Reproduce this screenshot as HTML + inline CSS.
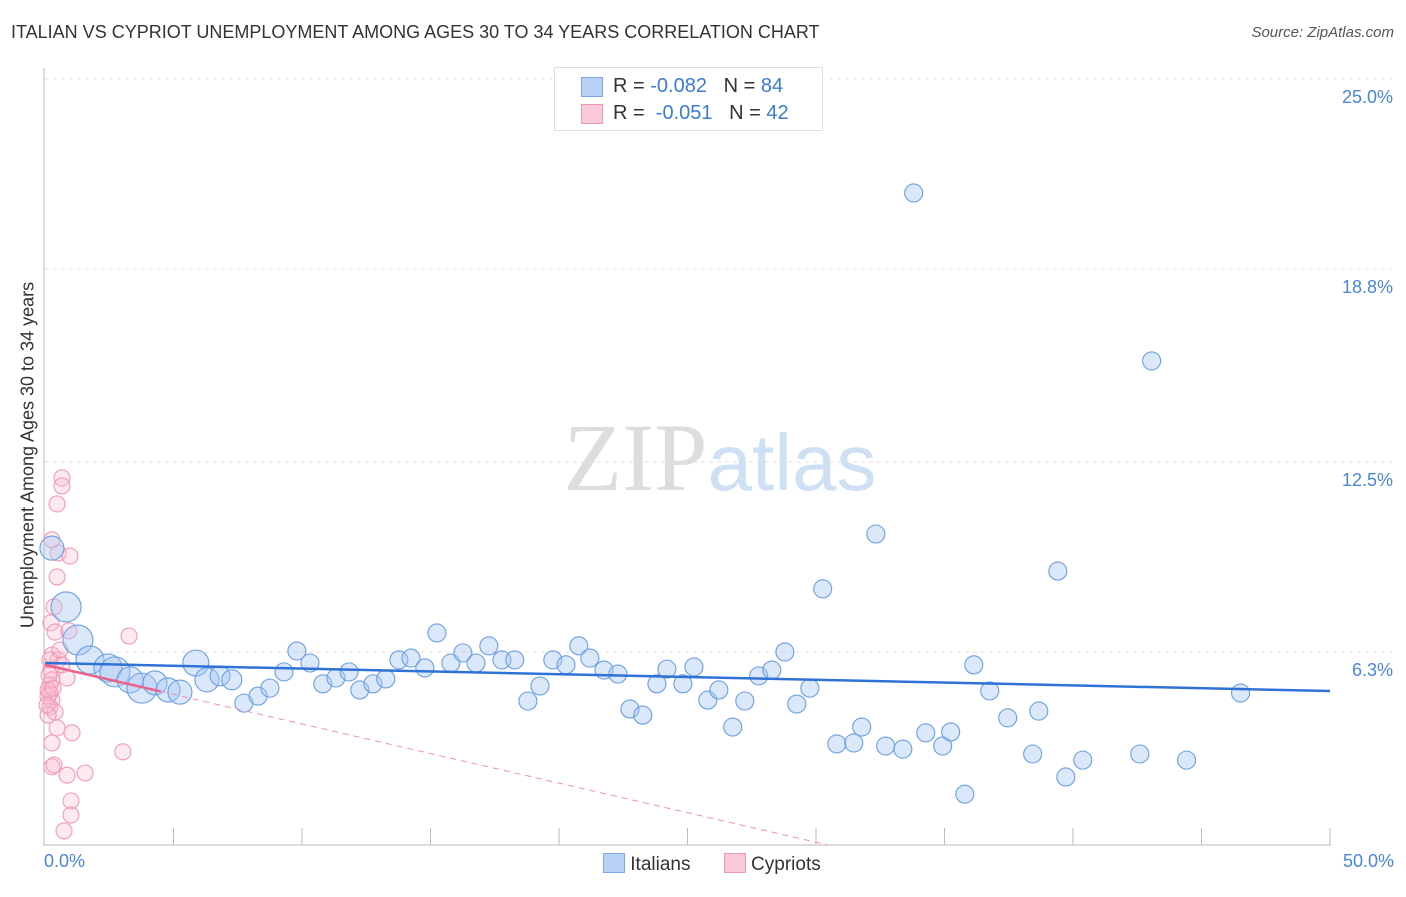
<!DOCTYPE html>
<html><head><meta charset="utf-8"><style>
body{margin:0;background:#fff;font-family:"Liberation Sans",sans-serif}
svg text{font-family:"Liberation Sans",sans-serif}
</style></head><body>
<svg id="c" width="1406" height="892"></svg>
<script>
const blueX=[.27,.82,1.28,1.75,2.45,2.72,3.31,3.77,4.28,4.79,5.25,5.87,6.30,6.81,7.27,7.74,8.29,8.75,9.30,9.80,10.31,10.81,11.32,11.83,12.25,12.76,13.26,13.77,14.24,14.78,15.25,15.79,16.26,16.77,17.27,17.78,18.28,18.79,19.26,19.76,20.27,20.77,21.20,21.75,22.29,22.76,23.26,23.81,24.20,24.82,25.25,25.79,26.22,26.76,27.23,27.77,28.28,28.79,29.25,29.76,30.26,30.81,31.47,31.78,32.33,32.71,33.38,33.80,34.27,34.93,35.24,35.79,36.14,36.76,37.46,38.43,38.67,39.41,39.72,40.38,42.60,43.06,44.42,46.52];
const blueY=[9.69,7.77,6.69,6.04,5.78,5.65,5.39,5.12,5.29,5.06,4.99,5.94,5.39,5.52,5.39,4.63,4.86,5.12,5.65,6.33,5.94,5.26,5.45,5.65,5.06,5.26,5.42,6.04,6.10,5.78,6.92,5.94,6.27,5.94,6.50,6.04,6.04,4.70,5.19,6.04,5.88,6.50,6.10,5.71,5.58,4.44,4.24,5.26,5.74,5.26,5.81,4.73,5.06,3.85,4.70,5.52,5.71,6.30,4.60,5.12,8.36,3.30,3.33,3.85,10.15,3.23,3.13,21.28,3.66,3.23,3.69,1.66,5.88,5.03,4.15,2.97,4.37,8.94,2.22,2.77,2.97,15.80,2.77,4.96];
const pinkX=[.27,.47,.66,.66,.51,.97,.47,.35,.23,.39,.93,3.27,.27,.51,.23,.66,.86,.19,.19,.27,.19,.39,.12,.47,1.05,.27,3.03,.27,.35,.86,1.56,1.01,1.01,.74,.12,.12,.27,.19,.58,.08,.16,.31];
const pinkY=[9.96,11.13,11.98,11.72,9.53,9.43,8.75,7.77,7.25,6.95,6.99,6.82,6.20,6.04,5.71,5.88,5.45,5.22,4.96,4.73,4.50,4.34,4.24,3.82,3.66,3.33,3.04,2.55,2.61,2.28,2.35,1.44,.98,.46,4.86,5.06,5.39,6.04,6.36,4.57,5.55,5.12];
const yTicks=[25,18.8,12.5,6.3];
const yTickLabels=["25.0%","18.8%","12.5%","6.3%"];
const blueTrend=[5.94,5.09]; // at x=0 and x=46.5
const pinkTrend=[5.88,-0.193];
const NS="http://www.w3.org/2000/svg";
const svg=document.getElementById('c');
const X=v=>45+v*25.7, Y=v=>845-v*30.64;
function mk(t,a,p){const e=document.createElementNS(NS,t);for(const k in a)e.setAttribute(k,a[k]);(p||svg).appendChild(e);return e;}
yTicks.forEach((t,i)=>{
 const l=mk('line',{x1:45,x2:1392,y1:Y(t),y2:Y(t),stroke:'#e0e0e0','stroke-dasharray':'4,4'});
 
 
 const tx=mk('text',{x:1393,y:Y(t)+24,'text-anchor':'end','font-size':18,fill:'#4a86dc'});
 tx.textContent=yTickLabels[i];
 
 
});
mk('line',{x1:44,x2:44,y1:68,y2:846,stroke:'#bbb'});
mk('line',{x1:44,x2:1331,y1:845,y2:845,stroke:'#bbb'});
for(let i=1;i<=10;i++){const x=X(i*5);const t=mk('line',{x1:x,x2:x,y1:828,y2:845,stroke:'#bbb'});}
const wm=mk('text',{x:720,y:490,'text-anchor':'middle','font-size':96});
wm.innerHTML='<tspan fill="#ddd" font-family="Liberation Serif">ZIP</tspan><tspan fill="#cfe0f5" font-size="80">atlas</tspan>';


pinkX.forEach((v,i)=>{
 const c=mk('circle',{cx:X(v),cy:Y(pinkY[i]),r:8,fill:'rgba(248,185,205,0.3)',stroke:'#f29ab5','stroke-width':1.1});
 
 
});
const bigR=[12,15,15,14,14,15,13,15,12,12,12,13,12,10,10];
blueX.forEach((v,i)=>{
 const c=mk('circle',{cx:X(v),cy:Y(blueY[i]),r:i<bigR.length?bigR[i]:9,fill:'rgba(165,198,242,0.4)',stroke:'#6a9fe4','stroke-width':1.1});
 
 
});
const bt=mk('line',{x1:X(0),y1:Y(blueTrend[0]),x2:X(50),y2:Y(blueTrend[0]+(blueTrend[1]-blueTrend[0])*50/46.5),stroke:'#2f72d6','stroke-width':2.5});


const pe=-pinkTrend[0]/pinkTrend[1];
const pt1=mk('line',{x1:X(0),y1:Y(pinkTrend[0]),x2:X(4.5),y2:Y(pinkTrend[0]+pinkTrend[1]*4.5),stroke:'#e8648c','stroke-width':2.5});


const pt2=mk('line',{x1:X(4.5),y1:Y(pinkTrend[0]+pinkTrend[1]*4.5),x2:X(pe),y2:Y(0),stroke:'#ef8fab','stroke-width':1,'stroke-dasharray':'6,5'});


</script>
<div style="position:absolute;left:11px;top:22px;font-size:18px;color:#333">ITALIAN VS CYPRIOT UNEMPLOYMENT AMONG AGES 30 TO 34 YEARS CORRELATION CHART</div>
<div style="position:absolute;right:12px;top:24px;font-size:15px;color:#555;font-style:italic">Source: ZipAtlas.com</div>
<div style="position:absolute;left:28px;top:455px;transform:translate(-50%,-50%) rotate(-90deg);font-size:18px;color:#333;white-space:nowrap">Unemployment Among Ages 30 to 34 years</div>
<div style="position:absolute;left:44px;top:851px;font-size:18px;color:#4a86dc">0.0%</div>
<div style="position:absolute;right:12px;top:851px;font-size:18px;color:#4a86dc">50.0%</div>
<div style="position:absolute;left:554px;top:67px;width:267px;height:62px;border:1px solid #ddd;background:#fff;font-size:20px;color:#333">
 <div style="position:absolute;left:26px;top:9px;width:20px;height:18px;background:#b7d2f5;border:1px solid #7aa7e6"></div>
 <div style="position:absolute;left:58px;top:7px">R = <span style="color:#3a7bd5">-0.082</span>&nbsp;&nbsp;&nbsp;N = <span style="color:#3a7bd5">84</span></div>
 <div style="position:absolute;left:26px;top:36px;width:20px;height:18px;background:#f9c9d7;border:1px solid #ef98b1"></div>
 <div style="position:absolute;left:58px;top:34px">R = &nbsp;<span style="color:#3a7bd5">-0.051</span>&nbsp;&nbsp;&nbsp;N = <span style="color:#3a7bd5">42</span></div>
</div>
<div style="position:absolute;left:603px;top:853px;font-size:19px;color:#333">
 <span><span style="display:inline-block;width:20px;height:18px;background:#b7d2f5;border:1px solid #7aa7e6;vertical-align:-3px"></span> Italians</span>
 <span style="margin-left:28px"><span style="display:inline-block;width:20px;height:18px;background:#f9c9d7;border:1px solid #ef98b1;vertical-align:-3px"></span> Cypriots</span>
</div>
</body></html>
